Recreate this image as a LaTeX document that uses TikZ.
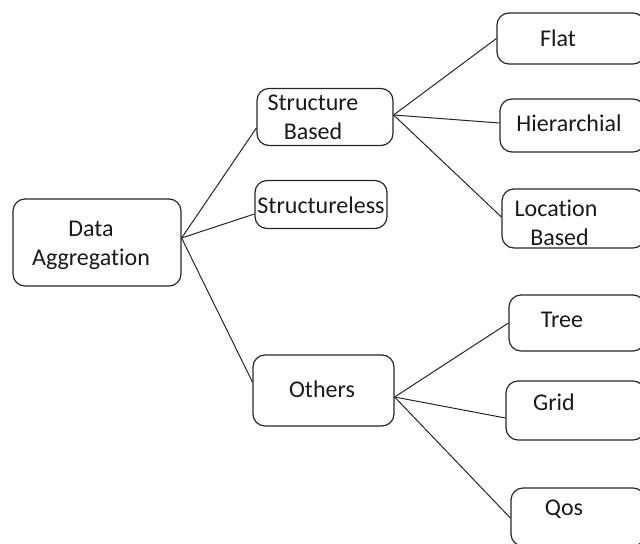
\documentclass[tikz,border=0pt]{standalone}
\usepackage{fontspec}
\setmainfont{Carlito}[Ligatures={NoCommon,NoContextual}]
\usepackage{tikz}
\usetikzlibrary{positioning}

\begin{document}
\begin{tikzpicture}[x=1bp, y=-1bp, line width=1.2bp,
    box/.style={draw=black!85, rounded corners=12bp, inner sep=0pt},
    txt/.style={inner sep=0pt, align=center, text=black!90,
      font=\fontsize{24bp}{29bp}\selectfont},
    link/.style={draw=black!85, line width=1bp}]

  \clip (0,0) rectangle (640,544);

  % Root
  \node[box, minimum width=168bp, minimum height=87bp] (agg) at (97,242.5) {};
  \node[txt] (aggT) at (91,245) {Data\\Aggregation};

  % Second level
  \node[box, minimum width=136bp, minimum height=57bp] (sb) at (325,117) {};
  \node[txt] (sbT) at (313,117) {Structure\\Based};
  \node[box, minimum width=132bp, minimum height=48bp] (sl) at (321,204.5) {};
  \node[txt] (slT) at (321,205) {Structureless};
  \node[box, minimum width=141bp, minimum height=71bp] (oth) at (323.5,390.5) {};
  \node[txt] (othT) at (322,389) {Others};

  % Leaves, structure based
  \node[box, minimum width=148bp, minimum height=51bp] (flat) at (571,38.5) {};
  \node[txt] (flatT) at (558,38) {Flat};
  \node[box, minimum width=145bp, minimum height=53bp] (hier) at (572.5,125.5) {};
  \node[txt] (hierT) at (569,123) {Hierarchial};
  \node[box, minimum width=143bp, minimum height=59bp] (loc) at (573.5,218.5) {};
  \node[txt] (locT) at (556,223) {Location\\\hspace*{7bp}Based};

  % Leaves, others
  \node[box, minimum width=136bp, minimum height=56bp] (tree) at (577,323) {};
  \node[txt] (treeT) at (562,320) {Tree};
  \node[box, minimum width=139bp, minimum height=59bp] (grid) at (575.5,410.5) {};
  \node[txt] (gridT) at (554,402) {Grid};
  \node[box, minimum width=134bp, minimum height=58bp] (qos) at (578,517) {};
  \node[txt] (qosT) at (564,509) {Qos};

  % Links
  \draw[link] ([yshift=4.5bp]agg.east) -- ([yshift=-11bp]sb.west);
  \draw[link] ([yshift=4.5bp]agg.east) -- ([yshift=-9.5bp]sl.west);
  \draw[link] ([yshift=4.5bp]agg.east) -- ([yshift=8.5bp]oth.west);

  \draw[link] ([yshift=2bp]sb.east) -- (flat.west);
  \draw[link] ([yshift=2bp]sb.east) -- ([yshift=2.5bp]hier.west);
  \draw[link] ([yshift=2bp]sb.east) -- ([yshift=1.5bp]loc.west);

  \draw[link] ([yshift=-6.5bp]oth.east) -- (tree.west);
  \draw[link] ([yshift=-6.5bp]oth.east) -- ([yshift=-7.5bp]grid.west);
  \draw[link] ([yshift=-6.5bp]oth.east) -- ([yshift=-1bp]qos.west);
\end{tikzpicture}
\end{document}
